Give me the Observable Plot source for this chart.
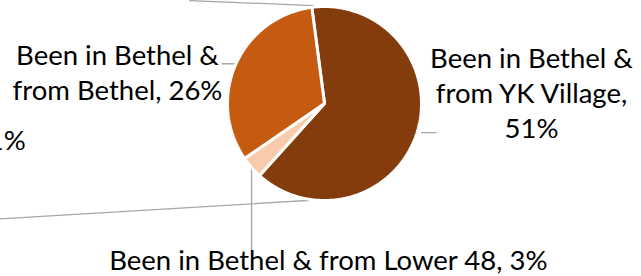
<!DOCTYPE html>
<html><head><meta charset="utf-8">
<script src="https://cdn.jsdelivr.net/npm/d3@7"></script>
<script src="https://cdn.jsdelivr.net/npm/@observablehq/plot@0.6"></script>
<style>html,body{margin:0;padding:0;background:#fff;overflow:hidden}</style>
</head><body><div id="chart"></div>
<script>
// ---- data ----
const categories = ["Been in Bethel & from YK Village", "Been in Bethel & from Lower 48", "Been in Bethel & from Bethel"];
const values = [51, 3, 26];
const labelTexts = ["Been in Bethel &\nfrom YK Village,\n51%", "Been in Bethel & from Lower 48, 3%", "Been in Bethel &\nfrom Bethel, 26%"];
const colors = ["#843C0C", "#F8CBAD", "#C55A11"];
const cutLabel = "1%";

// ---- layout (unit-circle coordinates) ----
const firstSliceAngle = -7.5; // degrees clockwise from 12 o'clock
const labelPos = [[2.134, 0.12], [0.04, -1.60], [-2.134, 0.335]];
const cutLabelPos = [-3.08, -0.39];
const leaders = [
  [[1.0, -0.30], [1.15, -0.30]],
  [[-1.055, 0.41], [-0.915, 0.41]],
  [[-1.39, 1.06], [-0.115, 1.01]],
  [[-3.35, -1.19], [-0.09, -0.995]]
];

const pie = d3.pie().sort(null)
  .startAngle(firstSliceAngle * Math.PI / 180)
  .endAngle(firstSliceAngle * Math.PI / 180 + 2 * Math.PI);
const arcs = pie(values);

const slicePts = arcs.map((a, i) => {
  const pts = [{x: 0, y: 0}];
  const n = Math.max(4, Math.ceil((a.endAngle - a.startAngle) / (Math.PI / 360)));
  for (let k = 0; k <= n; k++) {
    const t = a.startAngle + (a.endAngle - a.startAngle) * k / n;
    pts.push({x: Math.sin(t), y: Math.cos(t)});
  }
  return pts;
});

// leader for the small slice (vertical, from slice mid-angle)
const mid1 = (arcs[1].startAngle + arcs[1].endAngle) / 2;
leaders.push([[Math.sin(mid1), Math.cos(mid1)], [Math.sin(mid1), -1.52]]);

const leaderData = leaders.flatMap((l, i) => l.map(p => ({x: p[0], y: p[1], id: i})));

const labels = labelTexts.map((t, i) => ({x: labelPos[i][0], y: labelPos[i][1], text: t}));

const chart = Plot.plot({
  width: 641,
  height: 276,
  margin: 0,
  style: {background: "#fff", fontFamily: "Lato, sans-serif"},
  x: {domain: [-1, 1], range: [227, 421], axis: null},
  y: {domain: [-1, 1], range: [200, 6], axis: null},
  marks: [
    Plot.line(leaderData, {x: "x", y: "y", z: "id", stroke: "#A6A6A6", strokeWidth: 1.3}),
    ...slicePts.map((pts, i) => Plot.line(pts, {x: "x", y: "y", curve: "linear-closed", fill: colors[i], stroke: "#fff", strokeWidth: 3, strokeLinejoin: "miter"})),
    Plot.text(labels, {x: "x", y: "y", text: "text", textAnchor: "middle", lineAnchor: "middle", lineHeight: 1.28, fontSize: 27.5, fill: "#000"}),
    Plot.text([{x: cutLabelPos[0], y: cutLabelPos[1], text: cutLabel}], {x: "x", y: "y", text: "text", textAnchor: "end", lineAnchor: "middle", fontSize: 27.5, fill: "#000"})
  ]
});
document.getElementById("chart").appendChild(chart);
</script>
</body></html>
